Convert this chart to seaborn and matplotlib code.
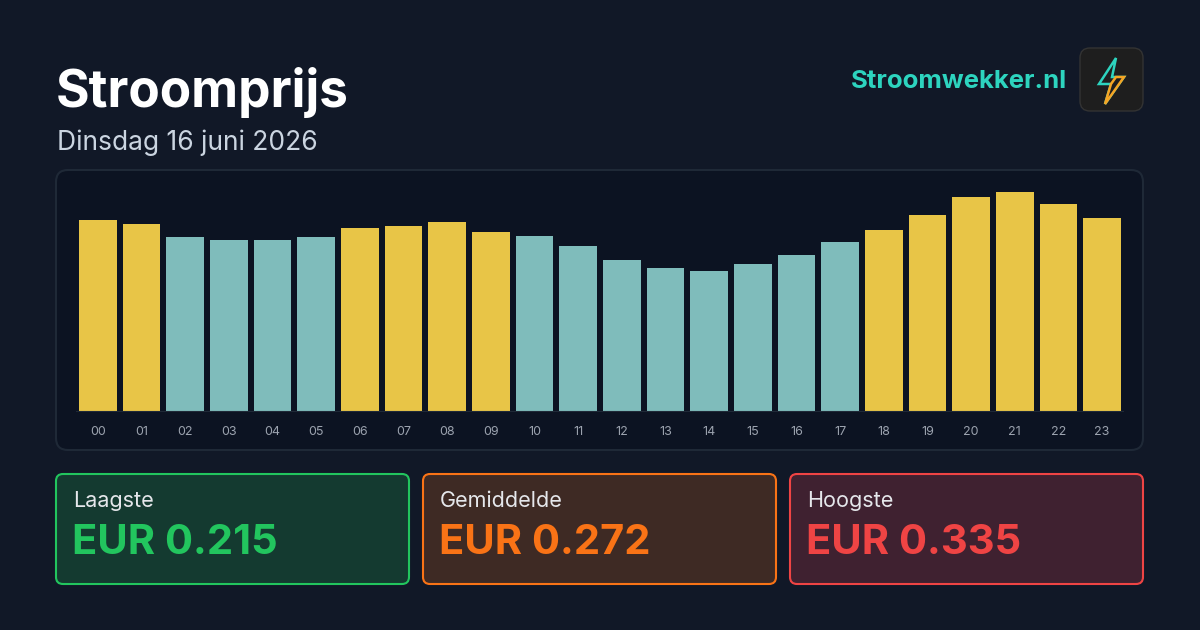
import matplotlib
matplotlib.use("Agg")
import matplotlib.pyplot as plt
from matplotlib.patches import FancyBboxPatch, Polygon
import seaborn as sns
import pandas as pd

hours = ["00","01","02","03","04","05","06","07","08","09","10","11",
         "12","13","14","15","16","17","18","19","20","21","22","23"]
prices = [0.292,0.286,0.267,0.262,0.262,0.267,0.280,0.283,0.289,0.274,0.268,0.253,
          0.232,0.219,0.215,0.225,0.239,0.259,0.277,0.300,0.327,0.335,0.317,0.295]
title = "Stroomprijs"
subtitle = "Dinsdag 16 juni 2026"
brand = "Stroomwekker.nl"
stat_labels = ["Laagste", "Gemiddelde", "Hoogste"]
stat_values = ["EUR 0.215", "EUR 0.272", "EUR 0.335"]
avg = 0.272

sns.set_theme(style="dark")
plt.rcParams['font.family'] = ['Inter', 'DejaVu Sans']

BG = "#111827"
fig = plt.figure(figsize=(12, 6.3), dpi=100, facecolor=BG)

ov = fig.add_axes([0, 0, 1, 1], zorder=0)
ov.set_xlim(0, 1200); ov.set_ylim(630, 0); ov.axis("off")
ov.set_facecolor(BG)

def rbox(x, y, w, h, fc, ec, r=8, lw=1.5):
    ov.add_patch(FancyBboxPatch((x + r, y + r), w - 2*r, h - 2*r,
                                boxstyle=f"round,pad={r}", fc=fc, ec=ec, lw=lw))

rbox(56, 170, 1087, 280, "#0c1322", "#1f2937", r=12)

ov.text(56, 92, title, color="white", fontsize=37, fontweight="bold", va="center")
ov.text(57, 143, subtitle, color="#cbd5e1", fontsize=19, va="center")
ov.text(1067, 81, brand, color="#2dd4bf", fontsize=18.5, fontweight="bold", va="center", ha="right")
rbox(1080, 48, 63, 63, "#1e1e1e", "#333333", r=10, lw=1)
ov.add_patch(Polygon([(1116, 58), (1099, 84), (1111, 84), (1105, 104), (1124, 77), (1112, 77)],
                     closed=True, fc="#1e1e1e", ec="#2dd4bf", lw=1.8))
ov.add_patch(Polygon([(1111, 84), (1105, 104), (1124, 77), (1116, 77)],
                     closed=True, fc="#1e1e1e", ec="#f5a524", lw=1.8))

stats = [(56, "#143a30", "#22c55e", "#22c55e"),
         (423, "#3e2a24", "#f97316", "#f97316"),
         (790, "#3f2130", "#ef4444", "#ef4444")]
for (x, fc, ec, tc), lab, val in zip(stats, stat_labels, stat_values):
    rbox(x, 474, 353, 110, fc, ec, r=7, lw=1.5)
    ov.text(x + 17, 501, lab, color="#e5e7eb", fontsize=15.5, va="center")
    ov.text(x + 16, 543, val, color=tc, fontsize=30, fontweight="bold", va="center")

ax = fig.add_axes([76/1200, 1 - 412/630, 1048/1200, 230/630], zorder=1)
ax.patch.set_alpha(0)
df = pd.DataFrame({"hour": hours, "price": prices})
df["kind"] = ["high" if p > avg else "low" for p in prices]
sns.barplot(data=df, x="hour", y="price", hue="kind",
            palette={"high": "#e8c547", "low": "#7fbcbb"}, width=0.87,
            dodge=False, legend=False, ax=ax, saturation=1, linewidth=0)
ax.set_xlim(-0.5, 23.5)
ax.set_ylim(0, 0.335 * 230 / 220)
ax.set_xlabel(""); ax.set_ylabel("")
ax.set_yticks([])
ax.tick_params(axis="x", colors="#9ca3af", labelsize=9, length=0, pad=10)
for s in ax.spines.values():
    s.set_visible(False)
ax.axhline(0, color="#1f2937", lw=1.5)
ax.grid(False)

fig.savefig("out.png", dpi=100, facecolor=BG)
